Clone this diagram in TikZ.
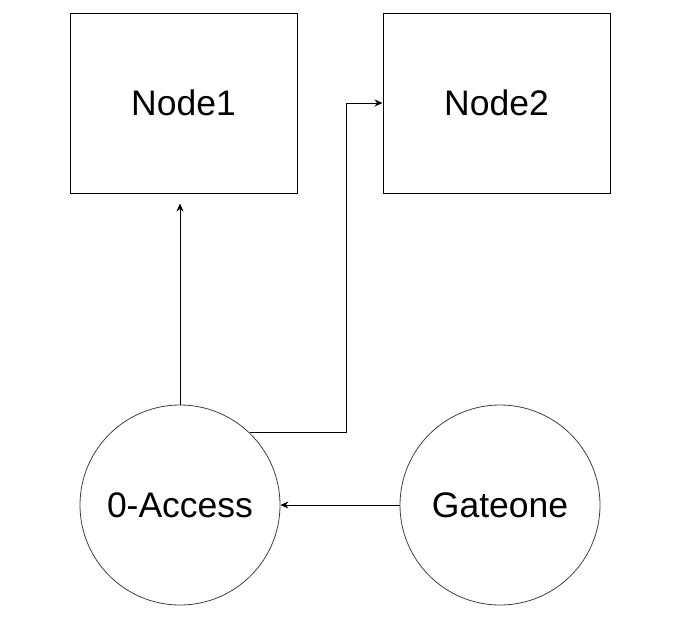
\documentclass[tikz,border=0pt]{standalone}
\usepackage{fontspec}
\setmainfont{Liberation Sans}
\usetikzlibrary{arrows.meta}
\begin{document}
\begin{tikzpicture}[x=1pt,y=-1pt,
  box/.style={draw=black,line width=1pt,minimum width=227pt,minimum height=180pt,inner sep=0pt,font=\fontsize{35.5}{42}\selectfont},
  roundnode/.style={circle,draw=black!75,line width=0.8pt,minimum size=200pt,inner sep=0pt,font=\fontsize{35.5}{42}\selectfont},
  conn/.style={line width=1pt,-{Stealth[length=8pt,width=7pt]}}]
\useasboundingbox (0,0) rectangle (676,635);
\node[box] (n1) at (183.5,103) {Node1};
\node[box] (n2) at (496.5,103) {Node2};
\node[roundnode] (acc) at (180,505) {0-Access};
\node[roundnode] (gate) at (500,505) {Gateone};
\draw[conn,shorten >=10pt] (acc.north) -- (acc.north |- n1.south);
\coordinate (bend) at (346,432);
\draw[conn] (acc.46) -- (acc.46 -| bend) -- (bend |- n2.west) -- (n2.west);
\draw[conn] (gate.west) -- (acc.east);
\end{tikzpicture}
\end{document}
